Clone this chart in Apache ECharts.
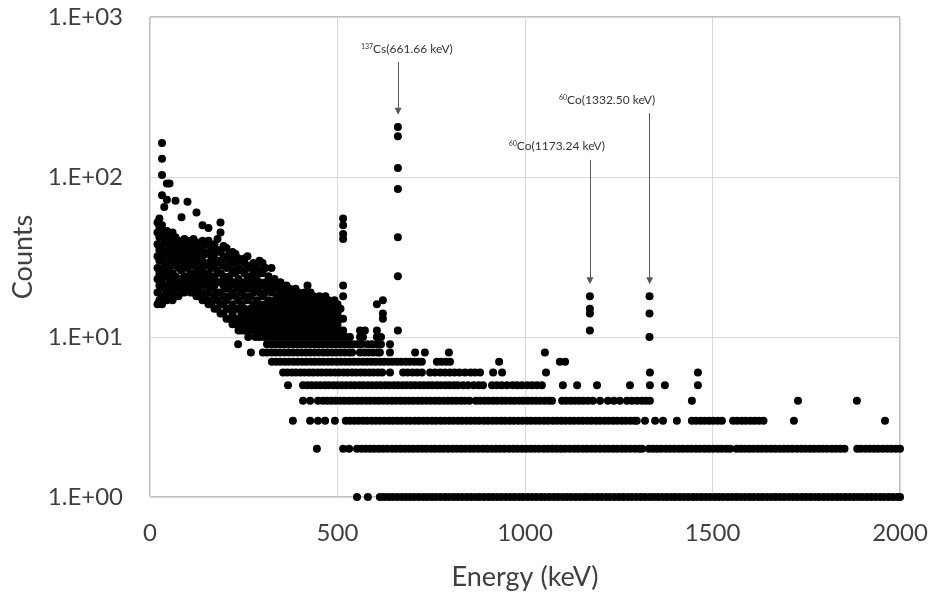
<!DOCTYPE html>
<html>
<head>
<meta charset="utf-8">
<title>Energy spectrum</title>
<script src="https://cdn.jsdelivr.net/npm/echarts@6.0.0/dist/echarts.min.js"></script>
<style>
html,body{margin:0;padding:0;background:#fff;}
#chart{width:935px;height:600px;}
</style>
</head>
<body>
<div id="chart"></div>
<script>
// energies (keV) of the channels sitting on each low count level
var e1=[552,581,613,624,636,647,659,671,682,694,705,717,729,740,752,763,775,787,798,810,821,833,845,856,868,879,891,903,914,926,937,949,961,972,984,995,1007,1019,1030,1042,1053,1065,1077,1088,1100,1111,1123,1135,1146,1158,1169,1181,1193,1204,1216,1227,1239,1251,1262,1274,1285,1297,1309,1320,1332,1343,1355,1367,1378,1390,1401,1413,1425,1436,1448,1459,1471,1483,1494,1506,1517,1529,1541,1552,1564,1575,1587,1599,1610,1622,1633,1645,1657,1668,1680,1691,1703,1715,1726,1738,1749,1761,1773,1784,1796,1807,1819,1831,1842,1854,1865,1877,1889,1900,1912,1923,1935,1947,1958,1970,1981,1993,2000];
var e2=[445,515,531,552,564,575,587,598,610,621,633,645,656,668,679,691,702,714,726,737,749,760,772,783,795,807,818,830,841,853,864,876,888,899,911,922,934,945,957,969,980,992,1003,1015,1026,1038,1050,1061,1073,1084,1096,1107,1119,1131,1142,1154,1165,1177,1188,1200,1212,1223,1235,1246,1258,1269,1281,1293,1304,1312,1330,1341,1352,1363,1375,1386,1398,1410,1421,1433,1444,1456,1467,1479,1490,1502,1514,1525,1537,1547,1564,1575,1586,1598,1609,1621,1632,1644,1656,1667,1679,1690,1702,1713,1725,1737,1748,1760,1771,1783,1794,1806,1818,1829,1841,1852,1886,1896,1908,1919,1931,1942,1954,1966,1977,1989,2000];
var e3=[381,427,448,467,493,522,533,545,556,568,579,591,602,614,625,637,648,660,671,683,694,706,717,729,740,752,763,775,786,798,809,821,832,844,855,867,878,890,901,913,924,936,947,959,970,982,993,1005,1016,1028,1039,1051,1062,1074,1085,1097,1108,1120,1131,1143,1154,1166,1177,1189,1200,1212,1223,1235,1246,1258,1269,1281,1292,1298,1320,1347,1368,1405,1445,1456,1468,1479,1491,1502,1514,1525,1555,1566,1578,1589,1601,1612,1624,1636,1717,1960];
var e4=[408,427,448,461,472,484,495,507,518,530,541,553,564,576,587,599,610,622,633,645,656,668,679,691,702,714,725,737,748,760,771,783,794,806,817,829,840,852,869,880,892,903,915,926,938,949,961,972,984,995,1007,1018,1030,1041,1053,1064,1072,1099,1110,1122,1133,1145,1156,1168,1181,1200,1221,1237,1253,1272,1285,1298,1311,1322,1333,1445,1728,1885];
var e5=[368,408,420,431,443,454,466,477,489,500,512,523,535,546,558,569,581,592,604,615,627,638,650,661,673,684,696,707,719,730,742,753,765,776,788,799,811,821,835,848,863,876,888,912,925,938,952,967,979,992,1006,1019,1032,1045,1101,1139,1192,1280,1333,1373,1461];
var e6=[355,366,378,389,401,412,424,435,447,458,470,481,493,504,516,527,539,550,562,573,585,596,608,619,640,675,687,700,712,725,747,760,774,787,800,812,825,840,855,867,880,915,939,1056,1333,1461];
var e7=[325,337,348,360,371,383,394,406,417,429,440,452,463,475,486,498,509,521,532,544,555,567,578,590,601,613,624,636,647,659,670,682,693,705,716,725,765,777,789,800,931,1093,1107];
var e8=[269,301,312,324,335,347,358,370,381,393,404,416,427,439,450,462,473,485,496,508,519,531,539,560,572,584,595,607,613,640,707,733,797,1053];
var e9=[235,312,323,335,346,358,369,381,392,404,415,427,438,450,461,473,484,496,507,519,530,542,553,565,580,592,604,616,640];
var e10=[262,281,292,304,315,327,338,350,361,373,384,396,407,419,430,442,453,465,476,488,499,511,522,533,560,568,605,616];

// low energy continuum: [energy, counts, counts, ...]
var cloud=[
	[20,16,19,23,27,32,38,45,52],
	[25,17,21,25,30,35,42,49,55],
	[32,16,18,22,26,31,36,43,50,77,103,130,163],
	[38,17,20,24,28,33,39,46,65],
	[45,17,19,21,25,29,34,40,46,72,91],
	[52,18,20,23,27,32,37,43,91],
	[60,17,19,22,25,30,35,41,45],
	[68,18,21,24,28,33,38,42,71],
	[76,18,20,23,27,31,36,40],
	[84,19,22,26,30,34,39,56],
	[92,19,21,24,28,32,37,41],
	[100,20,23,27,31,35,40,70],
	[108,19,22,25,29,33,38],
	[116,19,21,24,28,32,36,41],
	[124,18,20,23,26,30,34,39,60],
	[132,18,21,24,28,32,37],
	[140,17,19,22,26,30,35,40,50],
	[148,17,18,21,24,28,33,38],
	[156,16,19,22,25,29,34,40,48],
	[164,16,17,20,23,27,31,36],
	[172,15,18,21,24,28,33,38],
	[180,15,17,19,22,26,30,35,41],
	[188,14,16,19,22,25,29,34,45,52],
	[196,14,16,18,21,24,28,32,37],
	[204,13,15,17,20,23,27,31,36],
	[212,13,15,18,21,24,28,33],
	[220,12,14,16,19,22,26,30,34],
	[228,12,13,15,18,21,25,29,33],
	[236,11,13,15,17,20,23,27,31],
	[244,11,12,14,16,19,22,26,30],
	[252,11,13,15,18,21,25,29,31],
	[260,11,12,14,17,20,23,27,32],
	[268,11,13,15,18,21,24,28],
	[276,11,12,14,16,19,22,26,29],
	[284,11,13,15,17,20,24,28],
	[292,11,12,14,16,19,22,26,30],
	[300,11,13,15,18,21,25,29],
	[308,11,12,14,16,19,22,27],
	[316,11,13,15,17,20,24],
	[324,11,12,14,16,19,22,27],
	[332,11,13,15,17,20,23],
	[340,11,12,14,16,18,21],
	[348,11,13,15,17,19,22],
	[356,11,12,14,16,18,20],
	[364,11,13,15,17,19,21],
	[372,11,12,14,16,18,20],
	[380,11,13,15,17,19],
	[388,11,12,14,16,18,20],
	[396,11,13,15,17,19],
	[404,11,12,14,16,18],
	[412,11,13,15,17,19],
	[420,11,12,14,16,18,21],
	[428,11,13,15,17,19],
	[436,11,12,14,16,18],
	[444,11,13,15,17],
	[452,11,12,14,16,18],
	[460,11,13,15,17],
	[468,11,12,14,16,18],
	[476,11,13,15,17],
	[484,11,12,14,16],
	[492,11,13,15,17],
	[500,11,12,14,16],
	[508,11,13,15],
	[515,11,13,18,21,41,44,50,55],
	[560,11],
	[573,11],
	[605,11,16],
	[621,13,14,17]
];
// photopeaks: [energy, counts, ...]
var peakCs=[661,11,24,42,84,114,180,205];
var peakCo1=[1173,11,14,15,18];
var peakCo2=[1332,10,14,18];

var peakNames=['{sup|137}Cs(661.66 keV)','{sup|60}Co(1173.24 keV)','{sup|60}Co(1332.50 keV)'];
var peakEnergy=[661.66,1173.24,1332.50];

var font='Lato, "Open Sans", sans-serif';
var points=[];
var levels=[e1,e2,e3,e4,e5,e6,e7,e8,e9,e10];
for(var i=0;i<levels.length;i++){
	for(var j=0;j<levels[i].length;j++){
		points.push([levels[i][j],i+1]);
	}
}
var cols=cloud.concat([peakCs,peakCo1,peakCo2]);
for(var i=0;i<cols.length;i++){
	for(var k=1;k<cols[i].length;k++){
		points.push([cols[i][0],cols[i][k]]);
	}
}

var myChart=echarts.init(document.getElementById('chart'));
var option={
	animation:false,
	grid:{
		left:150,
		right:35,
		top:17,
		bottom:103,
		show:true,
		borderColor:'#808080',
		borderWidth:1
	},
	xAxis:{
		type:'value',
		min:0,
		max:2000,
		interval:500,
		name:'Energy (keV)',
		nameLocation:'middle',
		nameGap:67,
		nameTextStyle:{fontSize:27,fontFamily:font,color:'#404040'},
		axisLine:{show:false},
		axisTick:{show:false},
		axisLabel:{
			fontSize:24,fontFamily:font,color:'#404040',margin:24,
			formatter:function(v){
				return String(v);
			}
		},
		splitLine:{lineStyle:{color:'#d9d9d9',width:1}}
	},
	yAxis:{
		type:'log',
		logBase:10,
		min:1,
		max:1000,
		name:'Counts',
		nameLocation:'middle',
		nameGap:110,
		nameTextStyle:{fontSize:27,fontFamily:font,color:'#404040'},
		axisLine:{show:false},
		axisTick:{show:false},
		axisLabel:{
			fontSize:24,fontFamily:font,color:'#404040',margin:27,
			formatter:function(v){
				return '1.E+0'+Math.round(Math.log(v)/Math.LN10);
			}
		},
		splitLine:{lineStyle:{color:'#d9d9d9',width:1}}
	},
	series:[
		{
			type:'scatter',
			data:points,
			symbol:'circle',
			symbolSize:8,
			silent:true,
			clip:false,
			itemStyle:{color:'#000',opacity:1},
			markLine:{
				silent:true,
				symbol:['none','triangle'],
				symbolSize:7,
				label:{show:false},
				lineStyle:{color:'#595959',width:1,type:'solid'},
				data:[
					[{coord:[peakEnergy[0],523]},{coord:[peakEnergy[0],258]}],
					[{coord:[peakEnergy[1],128]},{coord:[peakEnergy[1],22.5]}],
					[{coord:[peakEnergy[2],251]},{coord:[peakEnergy[2],22.5]}]
				]
			}
		}
	]
};
myChart.setOption(option);

// peak labels above the arrows
var labelAt=[[685,631],[1085,156],[1219,303]];
var g=[];
for(var i=0;i<peakNames.length;i++){
	var p=myChart.convertToPixel({xAxisIndex:0,yAxisIndex:0},labelAt[i]);
	g.push({
		type:'text',
		x:p[0],
		y:p[1],
		silent:true,
		style:{
			text:peakNames[i],
			align:'center',
			verticalAlign:'middle',
			fontSize:12,
			fontFamily:font,
			fill:'#333',
			rich:{
				sup:{fontSize:7,fontFamily:font,fill:'#333',verticalAlign:'top',padding:[0,0,5,0]}
			}
		}
	});
}
myChart.setOption({graphic:g});
</script>
</body>
</html>
